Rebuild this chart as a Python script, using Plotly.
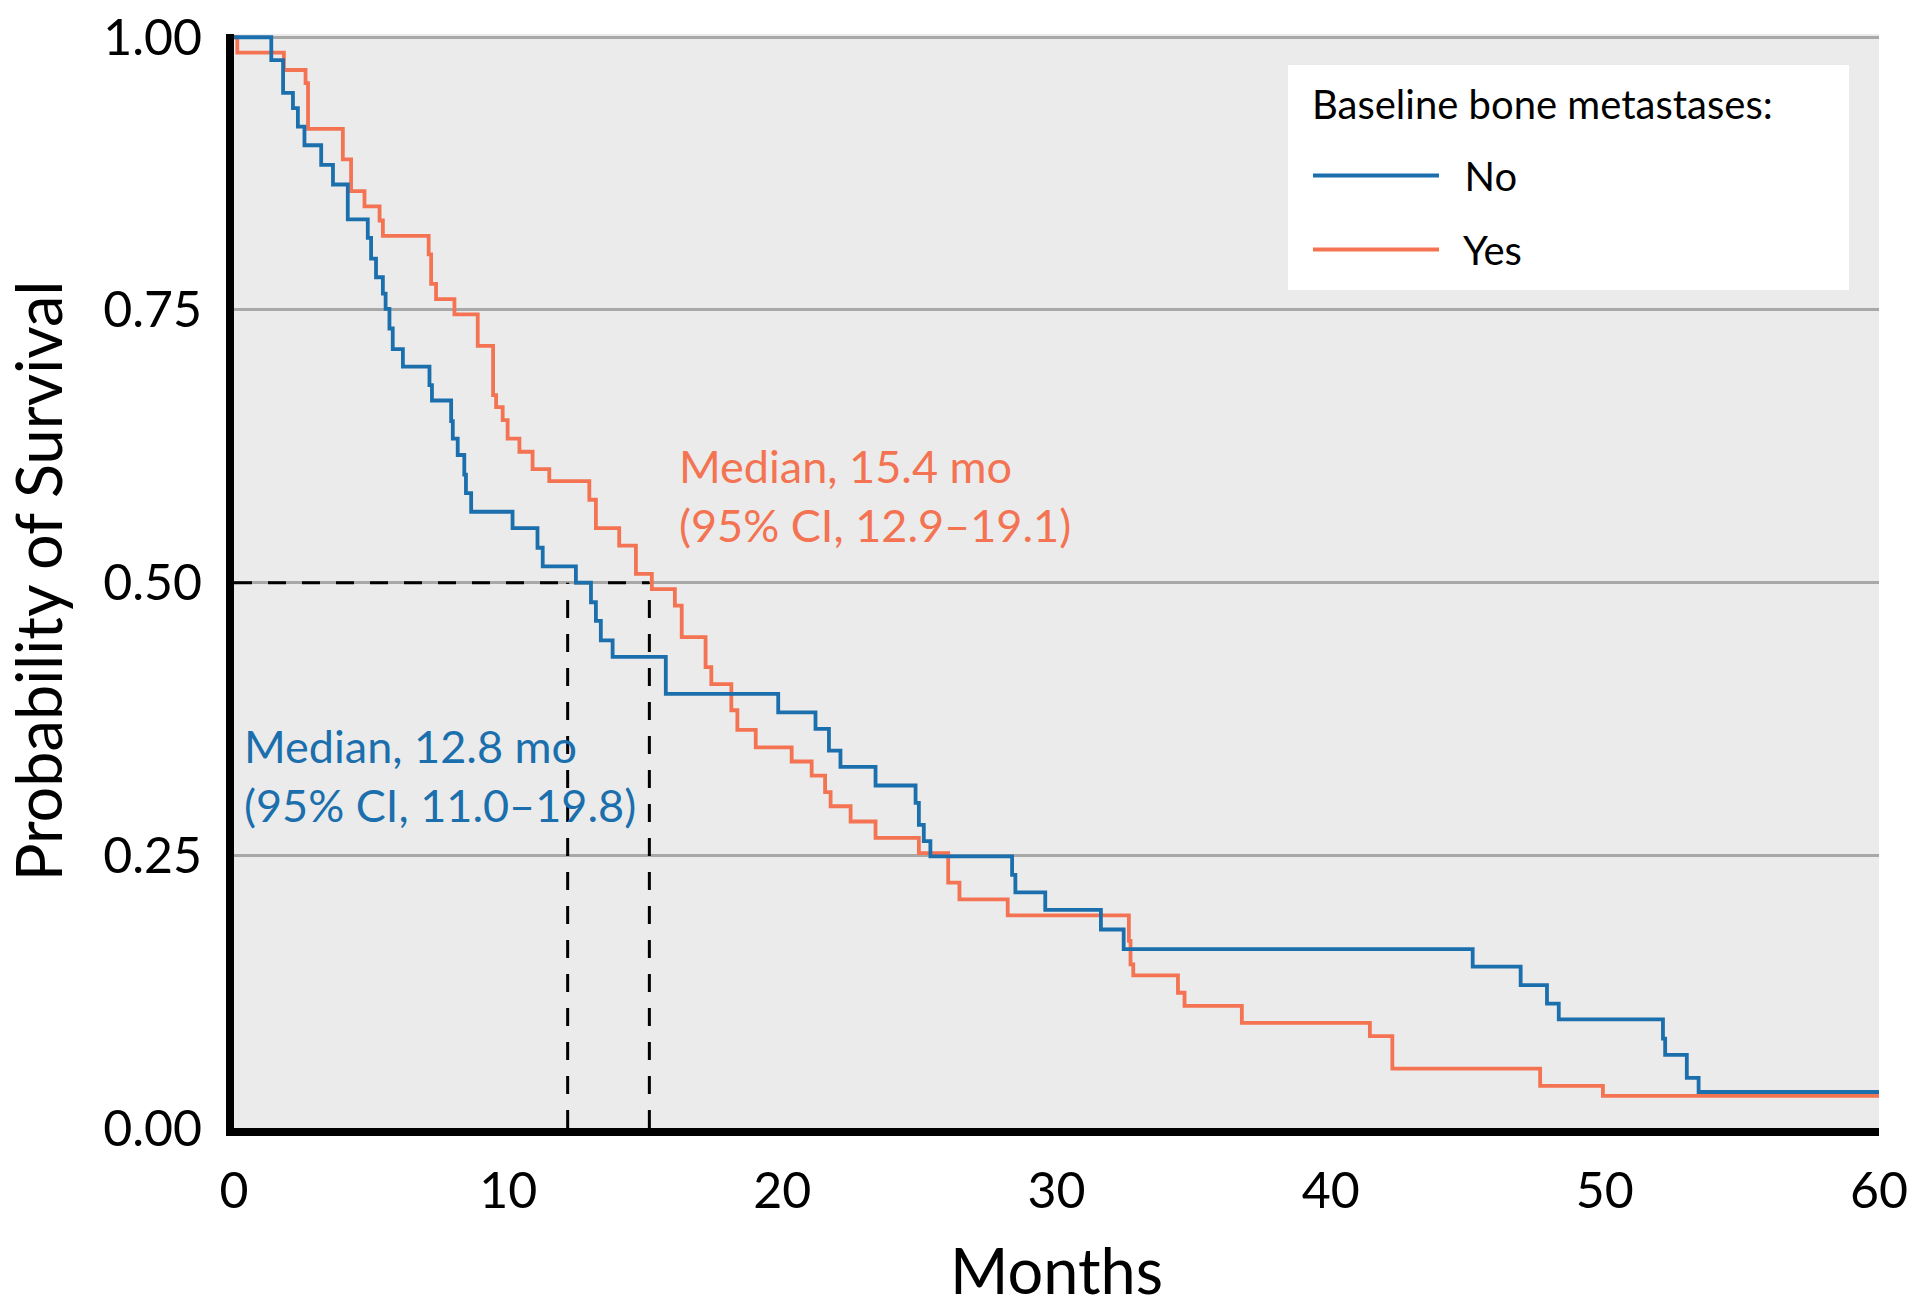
import plotly.graph_objects as go

# ---- data ----
no_months = [0, 1.36, 1.79, 2.15, 2.33, 2.57, 3.18, 3.61, 4.15, 4.88, 5.00, 5.18, 5.43, 5.53,
             5.67, 5.79, 6.16, 7.13, 7.22, 7.92, 7.98, 8.16, 8.40, 8.46, 8.65, 10.16, 11.07,
             11.26, 12.47, 13.02, 13.20, 13.38, 13.81, 15.75, 19.85, 21.21, 21.70, 22.12,
             23.40, 24.86, 24.98, 25.16, 25.40, 28.38, 28.50, 29.59, 31.62, 32.45, 45.18,
             46.93, 47.89, 48.32, 52.12, 52.20, 52.99, 53.42, 60]
no_surv = [1.0, 0.979, 0.949, 0.935, 0.918, 0.901, 0.883, 0.865, 0.833, 0.816, 0.797, 0.780,
           0.765, 0.751, 0.733, 0.714, 0.698, 0.681, 0.667, 0.648, 0.632, 0.617, 0.599, 0.582,
           0.565, 0.550, 0.532, 0.515, 0.500, 0.482, 0.465, 0.447, 0.432, 0.398, 0.381, 0.366,
           0.346, 0.331, 0.314, 0.298, 0.278, 0.263, 0.249, 0.232, 0.216, 0.200, 0.182, 0.164,
           0.148, 0.131, 0.114, 0.0995, 0.082, 0.067, 0.046, 0.033, 0.033]

yes_months = [0, 0.12, 1.82, 2.61, 2.70, 3.97, 4.27, 4.76, 5.31, 5.43, 7.10, 7.19, 7.37, 8.04,
              8.89, 9.45, 9.56, 9.80, 9.98, 10.41, 10.89, 11.50, 12.96, 13.20, 14.05, 14.66,
              15.24, 16.08, 16.33, 17.20, 17.41, 18.14, 18.36, 19.03, 20.34, 21.07, 21.56,
              21.76, 22.49, 23.40, 24.98, 26.05, 26.46, 28.22, 32.64, 32.70, 32.80, 34.43,
              34.67, 36.76, 41.43, 42.25, 47.64, 49.93, 60]
yes_surv = [1.0, 0.986, 0.970, 0.958, 0.916, 0.888, 0.859, 0.845, 0.832, 0.818, 0.801, 0.774,
            0.760, 0.746, 0.717, 0.672, 0.661, 0.649, 0.632, 0.620, 0.604, 0.593, 0.576, 0.550,
            0.534, 0.508, 0.494, 0.479, 0.450, 0.4225, 0.407, 0.383, 0.365, 0.349, 0.336,
            0.323, 0.308, 0.295, 0.281, 0.266, 0.252, 0.225, 0.2096, 0.195, 0.1715, 0.150,
            0.140, 0.124, 0.112, 0.0964, 0.0842, 0.0545, 0.0386, 0.0295, 0.0295]

median_level = 0.5
median_no_x = 12.17
median_yes_x = 15.15

x_ticks = [0, 10, 20, 30, 40, 50, 60]
y_ticks = [0, 0.25, 0.5, 0.75, 1.0]
y_tick_labels = ["0.00", "0.25", "0.50", "0.75", "1.00"]

legend_title = "Baseline bone metastases:"
label_no = "Median, 12.8 mo<br>(95% CI, 11.0\u201319.8)"
label_yes = "Median, 15.4 mo<br>(95% CI, 12.9\u201319.1)"

BLUE = "#1B6FAD"
ORANGE = "#F37352"
FONT = "Lato"
DASH = dict(color="black", width=3, dash="18px,16px")

fig = go.Figure()

# dashed median reference lines
fig.add_trace(go.Scatter(x=[0, median_yes_x], y=[median_level, median_level], mode="lines",
                         line=DASH, showlegend=False, hoverinfo="skip"))
fig.add_trace(go.Scatter(x=[median_no_x, median_no_x], y=[0, median_level], mode="lines",
                         line=DASH, showlegend=False, hoverinfo="skip"))
fig.add_trace(go.Scatter(x=[median_yes_x, median_yes_x], y=[0, median_level], mode="lines",
                         line=DASH, showlegend=False, hoverinfo="skip"))

fig.add_trace(go.Scatter(x=yes_months, y=yes_surv, mode="lines", name="\u00a0\u00a0Yes",
                         line=dict(color=ORANGE, width=3.8, shape="hv"),
                         legendrank=2, legendgroup="yes"))
fig.add_trace(go.Scatter(x=no_months, y=no_surv, mode="lines", name="\u00a0\u00a0No",
                         line=dict(color=BLUE, width=3.8, shape="hv"),
                         legendrank=1, legendgroup="no"))

# median labels
fig.add_annotation(x=0.3, y=0.3231, text=label_no, showarrow=False, align="left",
                   xanchor="left", yanchor="middle",
                   font=dict(family=FONT, size=45, color=BLUE))
fig.add_annotation(x=16.15, y=0.5797, text=label_yes, showarrow=False, align="left",
                   xanchor="left", yanchor="middle",
                   font=dict(family=FONT, size=45, color=ORANGE))

# legend box and heading (figure pixel layout: plot x 234..1879, y 34..1128)
W, H = 1920, 1307
L, R, T, B = 234, 41, 34, 179
pw, ph = W - L - R, H - T - B


def px_x(x):
    return (x - L) / pw


def px_y(y):
    return (H - B - y) / ph


fig.add_shape(type="rect", xref="paper", yref="paper",
              x0=px_x(1288), x1=px_x(1849), y0=px_y(290), y1=px_y(65),
              fillcolor="white", line=dict(width=0), layer="above")
fig.add_annotation(xref="paper", yref="paper", x=px_x(1310), y=px_y(104),
                   text=legend_title, showarrow=False, xanchor="left", yanchor="middle",
                   font=dict(family=FONT, size=40, color="black"))

fig.update_layout(
    width=W, height=H,
    margin=dict(l=L, r=R, t=T, b=B),
    paper_bgcolor="white",
    plot_bgcolor="#EBEBEB",
    font=dict(family=FONT, color="black"),
    legend=dict(
        x=px_x(1308), y=px_y(143), xanchor="left", yanchor="top",
        bgcolor="rgba(0,0,0,0)", borderwidth=0,
        font=dict(family=FONT, size=40, color="black"),
        itemwidth=126, tracegroupgap=19,
    ),
    xaxis=dict(
        range=[0, 60], tickvals=x_ticks, showgrid=False, zeroline=False,
        showline=True, linecolor="black", linewidth=8, automargin=False,
        ticks="", ticklabelstandoff=12,
        tickfont=dict(family=FONT, size=50, color="black"),
        title=dict(text="Months", font=dict(family=FONT, size=63, color="black"), standoff=40),
    ),
    yaxis=dict(
        range=[0, 1.003], tickvals=y_ticks, ticktext=y_tick_labels,
        showgrid=True, gridcolor="#A8A8A8", gridwidth=3, zeroline=False,
        showline=True, linecolor="black", linewidth=8, automargin=False,
        ticks="", ticklabelstandoff=14,
        tickfont=dict(family=FONT, size=50, color="black"),
        title=dict(text="Probability of Survival", font=dict(family=FONT, size=63, color="black"), standoff=24),
    ),
)

fig.write_html("out.html", config={"displayModeBar": False},
               post_script="document.body.style.margin='0';document.body.style.overflow='hidden';")
